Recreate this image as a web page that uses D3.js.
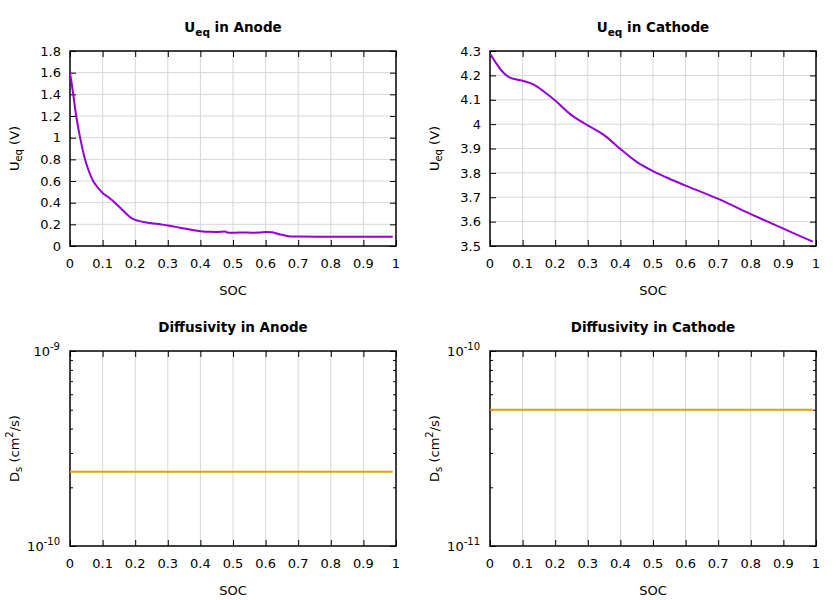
<!DOCTYPE html>
<html>
<head>
<meta charset="utf-8">
<script src="https://cdn.jsdelivr.net/npm/d3@7"></script>
<style>
  html, body { margin: 0; padding: 0; background: #fff; }
  svg { display: block; }
  text { font-family: "DejaVu Sans", sans-serif; fill: #000; }
</style>
</head>
<body>
<svg id="chart" width="840" height="600"></svg>
<script>
// ---------- data ----------
const xTicks = [0, 0.1, 0.2, 0.3, 0.4, 0.5, 0.6, 0.7, 0.8, 0.9, 1];

const anodeSOC = [0, 0.01, 0.019, 0.031, 0.046, 0.058, 0.071, 0.085, 0.1, 0.12, 0.138, 0.165, 0.19, 0.21, 0.24, 0.277, 0.30, 0.34, 0.38, 0.40, 0.43, 0.465, 0.475, 0.483, 0.52, 0.58, 0.60, 0.62, 0.645, 0.67, 0.70, 0.80, 0.90, 0.99];
const anodeU   = [1.60, 1.40, 1.20, 1.00, 0.80, 0.69, 0.60, 0.54, 0.49, 0.445, 0.40, 0.32, 0.255, 0.232, 0.215, 0.20, 0.19, 0.167, 0.145, 0.137, 0.131, 0.131, 0.134, 0.124, 0.124, 0.124, 0.13, 0.127, 0.106, 0.091, 0.087, 0.086, 0.086, 0.086];
const anodeUTicks = [0, 0.2, 0.4, 0.6, 0.8, 1, 1.2, 1.4, 1.6, 1.8];

const cathodeSOC = [0, 0.022, 0.042, 0.063, 0.1, 0.133, 0.164, 0.2, 0.25, 0.3, 0.35, 0.4, 0.45, 0.5, 0.55, 0.6, 0.7, 0.8, 0.9, 0.99];
const cathodeU   = [4.29, 4.244, 4.21, 4.19, 4.178, 4.163, 4.135, 4.097, 4.037, 3.995, 3.955, 3.898, 3.845, 3.807, 3.776, 3.748, 3.693, 3.631, 3.571, 3.518];
const cathodeUTicks = [3.5, 3.6, 3.7, 3.8, 3.9, 4, 4.1, 4.2, 4.3];

const diffSOC = [0, 0.99];
const anodeD = [2.4e-10, 2.4e-10];
const cathodeD = [5e-11, 5e-11];
const anodeDTicks = [1e-10, 1e-9];
const cathodeDTicks = [1e-11, 1e-10];

// ---------- drawing ----------
const svg = d3.select("#chart");
const W = 326, H = 195;
const purple = "#9400d3", orange = "#e69f00";
const FS = 13;

function panel(opt) {
  const g = svg.append("g").attr("transform", `translate(${opt.left},${opt.top})`);
  const x = d3.scaleLinear().domain([0, 1]).range([0, W]);
  const y = (opt.log ? d3.scaleLog() : d3.scaleLinear()).domain(opt.yDomain).range([H, 0]);

  // grid
  g.append("g").selectAll("line").data(xTicks.slice(1, -1)).join("line")
    .attr("x1", d => x(d)).attr("x2", d => x(d)).attr("y1", 0).attr("y2", H)
    .attr("stroke", "#d6d6d6").attr("stroke-width", 1);
  if (!opt.log) {
    g.append("g").selectAll("line").data(opt.yTicks.slice(1, -1)).join("line")
      .attr("x1", 0).attr("x2", W).attr("y1", d => y(d)).attr("y2", d => y(d))
      .attr("stroke", "#d6d6d6").attr("stroke-width", 1);
  }

  // axes (inward ticks, mirrored)
  const ax = (axis) => axis.tickSizeOuter(0).tickFormat("");
  g.append("g").attr("transform", `translate(0,${H})`)
    .call(ax(d3.axisBottom(x).tickValues(xTicks).tickSizeInner(-6)));
  g.append("g").call(ax(d3.axisTop(x).tickValues(xTicks).tickSizeInner(-6)));
  let minor = [];
  if (opt.log) {
    const lo = opt.yDomain[0];
    for (let k = 2; k <= 9; k++) minor.push(lo * k);
  }
  g.append("g").call(ax(d3.axisLeft(y).tickValues(opt.yTicks).tickSizeInner(-6)));
  g.append("g").attr("transform", `translate(${W},0)`)
    .call(ax(d3.axisRight(y).tickValues(opt.yTicks).tickSizeInner(-6)));
  if (opt.log) {
    g.append("g").call(ax(d3.axisLeft(y).tickValues(minor).tickSizeInner(-3)));
    g.append("g").attr("transform", `translate(${W},0)`)
      .call(ax(d3.axisRight(y).tickValues(minor).tickSizeInner(-3)));
  }
  g.selectAll(".domain").remove();
  g.selectAll(".tick line").attr("stroke", "#000").attr("stroke-width", 1);

  // frame
  g.append("rect").attr("x", 0).attr("y", 0).attr("width", W).attr("height", H)
    .attr("fill", "none").attr("stroke", "#000").attr("stroke-width", 1.5);

  // x tick labels
  g.append("g").selectAll("text").data(xTicks).join("text")
    .attr("x", d => x(d)).attr("y", H + 22).attr("text-anchor", "middle")
    .attr("font-size", FS).text(d => d3.format("")(d));

  // y tick labels
  if (!opt.log) {
    g.append("g").selectAll("text").data(opt.yTicks).join("text")
      .attr("x", -9).attr("y", d => y(d) + 4.7).attr("text-anchor", "end")
      .attr("font-size", FS).text(d => d3.format("")(d));
  } else {
    const lt = g.append("g").selectAll("text").data(opt.yTicks).join("text")
      .attr("x", -10).attr("y", d => y(d) + 4.7).attr("text-anchor", "end")
      .attr("font-size", FS);
    lt.append("tspan").text("10");
    lt.append("tspan").attr("dy", -5.5).attr("font-size", 10).text(d => String(Math.round(Math.log10(d))));
  }

  // curve
  const line = d3.line().x(d => x(d[0])).y(d => y(d[1])).curve(d3.curveCatmullRom.alpha(0.5));
  const pts = opt.xs.map((v, i) => [v, opt.ys[i]]);
  g.append("path").datum(pts).attr("d", line)
    .attr("fill", "none").attr("stroke", opt.color).attr("stroke-width", 2);

  // title
  const t = g.append("text").attr("x", W / 2).attr("y", -19.5).attr("text-anchor", "middle")
    .attr("font-size", 13.5).attr("font-weight", "bold");
  opt.title(t);

  // x label
  g.append("text").attr("x", W / 2).attr("y", H + 48.5).attr("text-anchor", "middle")
    .attr("font-size", FS).text("SOC");

  // y label
  const yl = g.append("text").attr("transform", `translate(${-51.5},${H / 2}) rotate(-90)`)
    .attr("text-anchor", "middle").attr("font-size", FS);
  opt.ylabel(yl);
}

function ueqTitle(where) {
  return t => {
    t.append("tspan").text("U");
    t.append("tspan").attr("dy", 4).attr("font-size", 10.5).text("eq");
    t.append("tspan").attr("dy", -4).text(" in " + where);
  };
}
function ueqLabel(t) {
  t.append("tspan").text("U");
  t.append("tspan").attr("dy", 3.5).attr("font-size", 10).text("eq");
  t.append("tspan").attr("dy", -3.5).text(" (V)");
}
function dLabel(t) {
  t.append("tspan").text("D");
  t.append("tspan").attr("dy", 3.5).attr("font-size", 10).text("s");
  t.append("tspan").attr("dy", -3.5).text(" (cm");
  t.append("tspan").attr("dy", -5.5).attr("font-size", 10).text("2");
  t.append("tspan").attr("dy", 5.5).text("/s)");
}

panel({ left: 70, top: 51, yDomain: [0, 1.8], yTicks: anodeUTicks, xs: anodeSOC, ys: anodeU,
  color: purple, title: ueqTitle("Anode"), ylabel: ueqLabel });
panel({ left: 490, top: 51, yDomain: [3.5, 4.3], yTicks: cathodeUTicks, xs: cathodeSOC, ys: cathodeU,
  color: purple, title: ueqTitle("Cathode"), ylabel: ueqLabel });
panel({ left: 70, top: 351, log: true, yDomain: [1e-10, 1e-9], yTicks: anodeDTicks, xs: diffSOC, ys: anodeD,
  color: orange, title: t => t.text("Diffusivity in Anode"), ylabel: dLabel });
panel({ left: 490, top: 351, log: true, yDomain: [1e-11, 1e-10], yTicks: cathodeDTicks, xs: diffSOC, ys: cathodeD,
  color: orange, title: t => t.text("Diffusivity in Cathode"), ylabel: dLabel });
</script>
</body>
</html>
